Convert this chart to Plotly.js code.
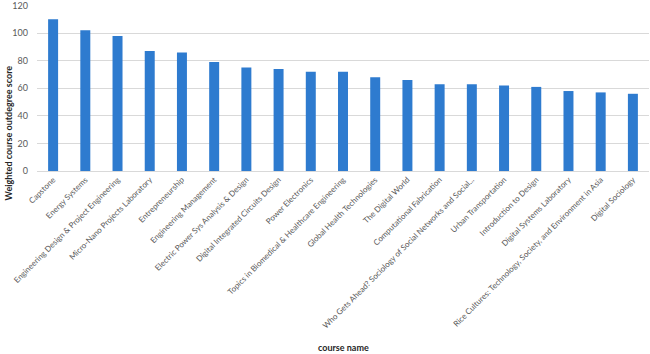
<!DOCTYPE html>
<html>
<head>
<meta charset="utf-8">
<script src="https://cdn.plot.ly/plotly-3.0.1.min.js"></script>
<style>html,body{margin:0;padding:0;background:#fff;}#chart{width:650px;height:354px;}</style>
</head>
<body>
<div id="chart"></div>
<script>
const courses = [
  "Capstone",
  "Energy Systems",
  "Engineering Design & Project Engineering",
  "Micro-Nano Projects Laboratory",
  "Entrepreneurship",
  "Engineering Management",
  "Electric Power Sys Analysis & Design",
  "Digital Integrated Circuits Design",
  "Power Electronics",
  "Topics in Biomedical & Healthcare Engineering",
  "Global Health Technologies",
  "The Digital World",
  "Computational Fabrication",
  "Who Gets Ahead? Sociology of Social Networks and Social...",
  "Urban Transportation",
  "Introduction to Design",
  "Digital Systems Laboratory",
  "Rice Cultures: Technology, Society, and Environment in Asia",
  "Digital Sociology"
];
const scores = [110, 102, 98, 87, 86, 79, 75, 74, 72, 72, 68, 66, 63, 63, 62, 61, 58, 57, 56];
const yTicks = [0, 20, 40, 60, 80, 100, 120];

const fontFam = "Lato, 'Liberation Sans', sans-serif";

Plotly.newPlot('chart', [{
  type: 'bar',
  x: courses,
  y: scores,
  marker: {color: '#2e7bcf'},
  hoverinfo: 'x+y'
}], {
  width: 650, height: 354,
  margin: {l: 37, r: 1, t: 5, b: 183},
  paper_bgcolor: '#fff', plot_bgcolor: '#fff',
  bargap: 0.69,
  showlegend: false,
  font: {family: fontFam, color: '#595959', size: 9},
  xaxis: {
    type: 'category',
    tickangle: -45,
    tickfont: {size: 8, color: '#595959', family: fontFam},
    showgrid: false,
    showline: true, linecolor: '#d9d9d9', linewidth: 1,
    ticks: '', automargin: false
  },
  yaxis: {
    range: [0, 120.4],
    tickvals: yTicks,
    ticktext: yTicks.map(String),
    gridcolor: '#d9d9d9', gridwidth: 1,
    zeroline: false,
    showline: false,
    ticks: '', ticklabelstandoff: 8,
    ticklabeloverflow: 'allow',
    tickfont: {size: 9, color: '#595959', family: fontFam},
    automargin: false
  },
  annotations: [
    {text: '<b>Weighted course outdegree score</b>', textangle: -90,
     xref: 'paper', yref: 'paper', x: -37/612, y: (171-133)/166, xanchor: 'left', yanchor: 'middle',
     showarrow: false, font: {size: 9, color: '#262626', family: fontFam}},
    {text: '<b>course name</b>', xref: 'paper', yref: 'paper', x: 0.5, y: -(347-171)/166,
     xanchor: 'center', yanchor: 'middle', showarrow: false,
     font: {size: 9, color: '#262626', family: fontFam}}
  ]
}, {displayModeBar: false, staticPlot: true});
</script>
</body>
</html>
